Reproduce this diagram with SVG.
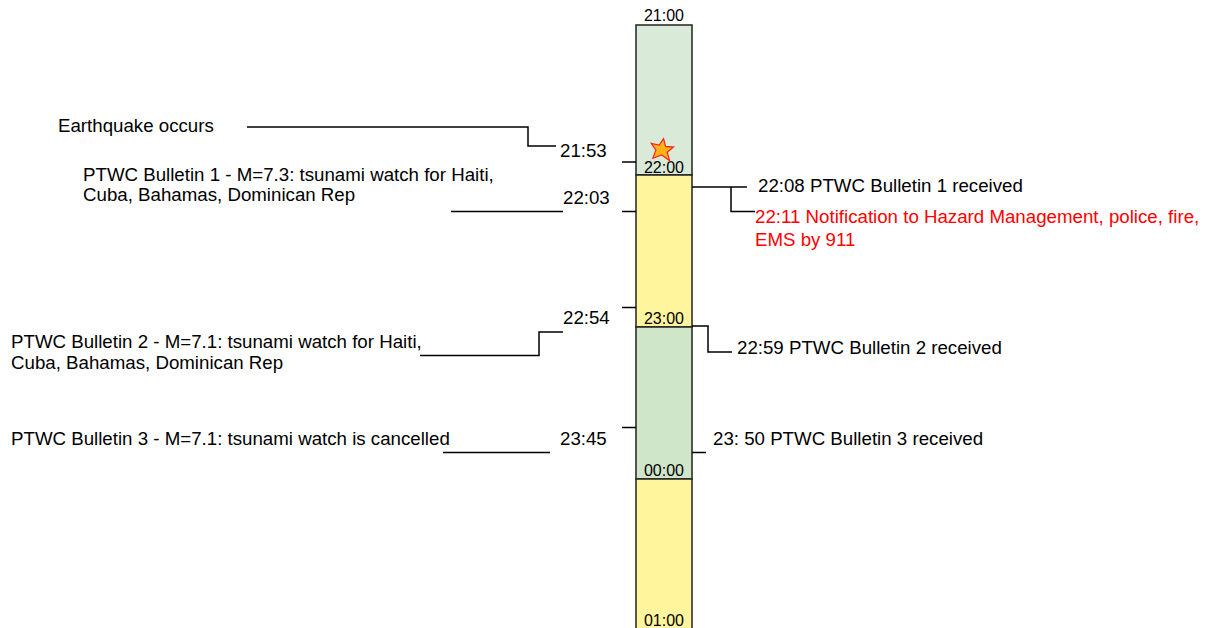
<svg xmlns="http://www.w3.org/2000/svg" width="1211" height="628" viewBox="0 0 1211 628">
<style>
text{font-family:"Liberation Sans",Arial,sans-serif;font-size:18.7px;fill:#000}
.lbl{font-size:16px;text-anchor:middle}
.red{fill:#ff0000}
.seg{stroke:#222;stroke-width:1.5}
.g1{fill:#d9ebd8}.g2{fill:#d0e6c9}.y{fill:#fff59c}
.c{fill:none;stroke:#000;stroke-width:1.5}
</style>
<rect width="1211" height="628" fill="#fff"/>
<g id="timeline">
<rect class="seg g1" x="636" y="25" width="56" height="150"/>
<rect class="seg y" x="636" y="175" width="56" height="152"/>
<rect class="seg g2" x="636" y="327" width="56" height="152"/>
<rect class="seg y" x="636" y="479" width="56" height="160"/>
<text class="lbl" x="664" y="21">21:00</text>
<text class="lbl" x="664" y="173">22:00</text>
<text class="lbl" x="664" y="324">23:00</text>
<text class="lbl" x="664" y="476">00:00</text>
<text class="lbl" x="664" y="626">01:00</text>
</g>
<g id="star">
<polygon points="662,138.5 665,146 673,145.5 667.5,151.5 671,159.5 662.5,155 654,159.5 656,151 650.5,145 658.5,145.5" fill="#ffb319" stroke="#ff2020" stroke-width="1.2" transform="rotate(8 662 150)"/>
</g>
<g id="connectors">
<polyline class="c" points="247,127 528,127 528,146 556,146"/>
<line class="c" x1="622" y1="162" x2="636" y2="162"/>
<line class="c" x1="451" y1="211.5" x2="563" y2="211.5"/>
<line class="c" x1="622" y1="211.5" x2="636" y2="211.5"/>
<line class="c" x1="692" y1="187" x2="747" y2="187"/>
<polyline class="c" points="731,187 731,211.5 755,211.5"/>
<line class="c" x1="622" y1="307.5" x2="636" y2="307.5"/>
<polyline class="c" points="420,355.5 539,355.5 539,332 563,332"/>
<polyline class="c" points="692,326 708,326 708,352 732,352"/>
<line class="c" x1="622" y1="427.5" x2="636" y2="427.5"/>
<line class="c" x1="443" y1="452.5" x2="550" y2="452.5"/>
<line class="c" x1="692" y1="452.5" x2="706" y2="452.5"/>
</g>
<g id="earthquake"><text x="58" y="132">Earthquake occurs</text><text x="560" y="157">21:53</text></g>
<g id="bulletin1"><text x="83" y="181">PTWC Bulletin 1 - M=7.3: tsunami watch for Haiti,</text><text x="83" y="201">Cuba, Bahamas, Dominican Rep</text><text x="563" y="204">22:03</text></g>
<g id="received1"><text x="758" y="192">22:08 PTWC Bulletin 1 received</text></g>
<g id="notification"><text class="red" x="755" y="223">22:11 Notification to Hazard Management, police, fire,</text><text class="red" x="755" y="246">EMS by 911</text></g>
<g id="bulletin2"><text x="11" y="348">PTWC Bulletin 2 - M=7.1: tsunami watch for Haiti,</text><text x="11" y="369">Cuba, Bahamas, Dominican Rep</text><text x="563" y="324">22:54</text></g>
<g id="received2"><text x="737" y="354">22:59 PTWC Bulletin 2 received</text></g>
<g id="bulletin3"><text x="11" y="445">PTWC Bulletin 3 - M=7.1: tsunami watch is cancelled</text><text x="560" y="445">23:45</text></g>
<g id="received3"><text x="713" y="445">23: 50 PTWC Bulletin 3 received</text></g>
</svg>
